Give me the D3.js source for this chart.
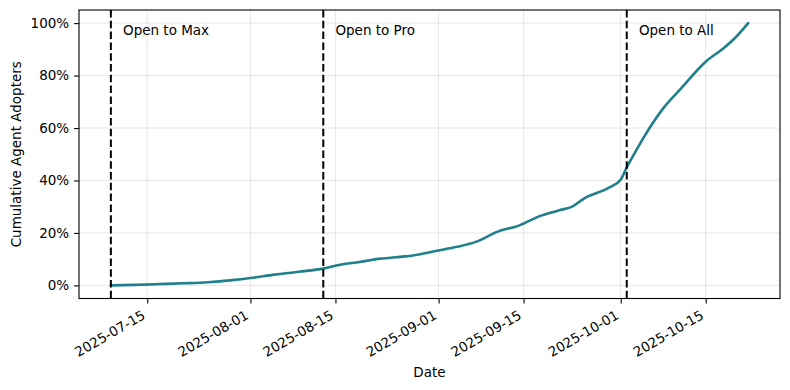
<!DOCTYPE html>
<html>
<head>
<meta charset="utf-8">
<script src="https://cdn.jsdelivr.net/npm/d3@7"></script>
<style>
  body { margin: 0; background: #fff; }
  text { font-family: "DejaVu Sans", sans-serif; fill: #000; }
</style>
</head>
<body>
<svg id="chart" width="790" height="390"></svg>
<script>
// cumulative share of adopters
const dates = ["2025-07-09","2025-07-13","2025-07-17","2025-07-21","2025-07-25","2025-07-29",
  "2025-08-01","2025-08-05","2025-08-09","2025-08-13","2025-08-16","2025-08-19","2025-08-22",
  "2025-08-25","2025-08-28","2025-09-01","2025-09-04","2025-09-07","2025-09-11","2025-09-14",
  "2025-09-18","2025-09-21","2025-09-23","2025-09-25","2025-09-29","2025-10-01","2025-10-02",
  "2025-10-03","2025-10-05","2025-10-08","2025-10-11","2025-10-15","2025-10-18","2025-10-20",
  "2025-10-22"]
const adopters = [0.000,0.002,0.005,0.008,0.012,0.020,
  0.028,0.041,0.052,0.064,0.080,0.089,0.101,
  0.107,0.115,0.133,0.147,0.165,0.207,0.226,
  0.267,0.287,0.300,0.332,0.372,0.403,0.450,
  0.492,0.572,0.675,0.752,0.853,0.905,0.947,
  1.000]

const eventDates  = ["2025-07-09","2025-08-13","2025-10-02"]
const eventLabels = ["Open to Max","Open to Pro","Open to All"]

const xTicks = ["2025-07-15","2025-08-01","2025-08-15","2025-09-01","2025-09-15","2025-10-01","2025-10-15"]
const yTicks = [0,0.2,0.4,0.6,0.8,1.0]

const parse = d3.utcParse("%Y-%m-%d")
const fmt = d3.utcFormat("%Y-%m-%d")
const data = dates.map((d,i) => ({date: parse(d), v: adopters[i]}))

const svg = d3.select("#chart")
const m = {left:79, right:780, top:10, bottom:298.5}

// matplotlib style 5% margins
let ext = d3.extent(data, d => d.date)
let pad = (ext[1]-ext[0])*0.05
const x = d3.scaleUtc()
  .domain([new Date(+ext[0]-pad), new Date(+ext[1]+pad)])
  .range([m.left, m.right])
const y = d3.scaleLinear().domain([-0.05,1.05]).range([m.bottom, m.top])

const g = svg.append("g")

// grid
g.selectAll(".gx").data(xTicks).enter().append("line")
  .attr("x1", d => x(parse(d))).attr("x2", d => x(parse(d)))
  .attr("y1", m.top).attr("y2", m.bottom)
  .attr("stroke","#b0b0b0").attr("stroke-opacity",0.3).attr("stroke-width",1)
g.selectAll(".gy").data(yTicks).enter().append("line")
  .attr("x1", m.left).attr("x2", m.right)
  .attr("y1", d => y(d)).attr("y2", d => y(d))
  .attr("stroke","#b0b0b0").attr("stroke-opacity",0.3).attr("stroke-width",1)

// the curve
g.append("path")
  .datum(data)
  .attr("fill","none")
  .attr("stroke","#1f7f8a")
  .attr("stroke-width",2.6)
  .attr("stroke-linejoin","round")
  .attr("stroke-linecap","round")
  .attr("d", d3.line().x(d => x(d.date)).y(d => y(d.v)).curve(d3.curveMonotoneX))

// event markers
eventDates.forEach((d,i) => {
  let xp = x(parse(d))
  g.append("line")
    .attr("x1", xp).attr("x2", xp)
    .attr("y1", m.top).attr("y2", m.bottom)
    .attr("stroke","#000").attr("stroke-width",2)
    .attr("stroke-dasharray","7.5,3.3")
  g.append("text")
    .attr("x", x(d3.utcDay.offset(parse(d),2)))
    .attr("y", 34.5)
    .style("font-size","13.5px")
    .text(eventLabels[i])
})

// frame
g.append("rect")
  .attr("x", m.left).attr("y", m.top)
  .attr("width", m.right-m.left).attr("height", m.bottom-m.top)
  .attr("fill","none").attr("stroke","#000").attr("stroke-width",1.1)

// x axis
const xAxis = d3.axisBottom(x)
  .tickValues(xTicks.map(parse))
  .tickFormat(fmt)
  .tickSize(4.9).tickSizeOuter(0)
const gx = svg.append("g").attr("transform","translate(0,"+m.bottom+")").call(xAxis)
gx.select(".domain").remove()
gx.selectAll(".tick line").attr("stroke","#000").attr("stroke-width",1.1)
gx.selectAll(".tick text")
  .attr("y",0).attr("dy",0)
  .attr("transform","translate(-1.5,19.5) rotate(-30)")
  .attr("text-anchor","end")
  .style("font-size","13.5px")
  .style("font-family","DejaVu Sans")
  .attr("fill","#000")

// y axis
const yAxis = d3.axisLeft(y)
  .tickValues(yTicks)
  .tickFormat(d3.format(".0%"))
  .tickSize(4.9).tickPadding(4.9).tickSizeOuter(0)
const gy = svg.append("g").attr("transform","translate("+m.left+",0)").call(yAxis)
gy.select(".domain").remove()
gy.selectAll(".tick line").attr("stroke","#000").attr("stroke-width",1.1)
gy.selectAll(".tick text")
  .style("font-size","13.5px")
  .style("font-family","DejaVu Sans")
  .attr("fill","#000")

// axis titles
svg.append("text")
  .attr("x",(m.left+m.right)/2).attr("y",376.5)
  .attr("text-anchor","middle")
  .style("font-size","13.5px")
  .text("Date")
svg.append("text")
  .attr("transform","translate(21,"+((m.top+m.bottom)/2)+") rotate(-90)")
  .attr("text-anchor","middle")
  .style("font-size","13.5px")
  .text("Cumulative Agent Adopters")
</script>
</body>
</html>
